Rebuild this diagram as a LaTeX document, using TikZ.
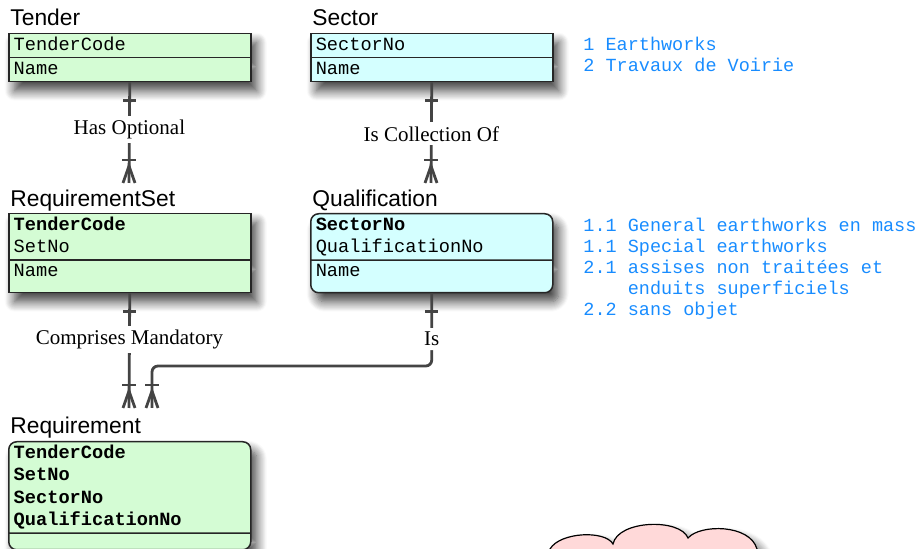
\documentclass[tikz,border=0pt]{standalone}
\usepackage{fontspec}
\setmainfont{Liberation Serif}
\setsansfont{Liberation Sans}
\setmonofont{Liberation Mono}
\usetikzlibrary{shapes.multipart,shadows.blur}

\definecolor{entgreen}{RGB}{212,252,212}
\definecolor{entcyan}{RGB}{212,255,255}
\definecolor{cloudpink}{RGB}{255,217,217}
\definecolor{linegray}{RGB}{68,68,68}
\definecolor{noteblue}{RGB}{24,140,255}

\newcommand{\fld}[1]{\rule[-3.25pt]{0pt}{11.25pt}#1}

\tikzset{
  boxshadow/.style={blur shadow={shadow xshift=3pt, shadow yshift=-4.5pt, shadow blur radius=5pt, shadow blur steps=10, shadow opacity=75}},
  entity/.style={rectangle split, rectangle split parts=2, draw=black!85, line width=0.75pt,
    inner xsep=2.5pt, inner ysep=0pt, text width=116pt, align=left, anchor=north west,
    font=\ttfamily\fontsize{9.33pt}{11.25pt}\selectfont, boxshadow},
  enttitle/.style={font=\sffamily\fontsize{11.4pt}{13pt}\selectfont, inner sep=0pt, anchor=base west},
  rel/.style={draw=linegray, line width=1.4pt},
  lbl/.style={fill=white, font=\fontsize{10.5pt}{12pt}\selectfont, inner sep=2pt},
  note/.style={text=noteblue, font=\ttfamily\fontsize{9.25pt}{10.5pt}\selectfont, align=left, inner sep=0pt, anchor=north west}
}

\begin{document}
\begin{tikzpicture}[x=0.5pt,y=-0.5pt]
\useasboundingbox (0,0) rectangle (921,549);

% Entities
\node[entity, fill=entgreen] (tender) at (8,33) {\fld{TenderCode}\nodepart{two}\fld{Name}};
\node[entity, fill=entcyan] (sector) at (310,33) {\fld{SectorNo}\nodepart{two}\fld{Name}};
\node[entity, fill=entgreen] (reqset) at (8,213) {\fld{\textbf{TenderCode}}\\\fld{SetNo}\nodepart{two}\fld{Name}\rule[-7.5pt]{0pt}{0pt}};
\node[entity, fill=entcyan, rounded corners=4pt] (qual) at (310,213) {\fld{\textbf{SectorNo}}\\\fld{QualificationNo}\nodepart{two}\fld{Name}\rule[-7.5pt]{0pt}{0pt}};
\node[entity, fill=entgreen, rounded corners=4pt] (req) at (8,441) {\fld{\textbf{TenderCode}}\\\fld{\textbf{SetNo}}\\\fld{\textbf{SectorNo}}\\\fld{\textbf{QualificationNo}}\nodepart{two}\rule{0pt}{7.5pt}};

% Titles
\node[enttitle] (tenderT) at ([shift={(2,-7)}]tender.north west) {Tender};
\node[enttitle] (sectorT) at ([shift={(2,-7)}]sector.north west) {Sector};
\node[enttitle] (reqsetT) at ([shift={(2,-6)}]reqset.north west) {RequirementSet};
\node[enttitle] (qualT) at ([shift={(2,-6)}]qual.north west) {Qualification};
\node[enttitle] (reqT) at ([shift={(2,-7)}]req.north west) {Requirement};

% Sample values
\node[note] (sectorNotes) at (583,37) {1 Earthworks\\2 Travaux de Voirie};
\node[note] (qualNotes) at (583,218) {1.1 General earthworks en mass\\1.1 Special earthworks\\2.1 assises non traitées et\\\hspace*{2.4em}enduits superficiels\\2.2 sans objet};

% Relationships
\coordinate (rsIn) at (129,183);
\coordinate (qualIn) at (431,183);
\coordinate (reqInA) at (129,408);
\coordinate (reqInB) at (152,408);
\coordinate (isTurn) at (152,366);

\draw[rel] (tender.south) -- (rsIn) node[lbl, pos=0.47] (hasOpt) {Has Optional};
\draw[rel] (sector.south) -- (qualIn) node[lbl, pos=0.51] (isColl) {Is Collection Of};
\draw[rel] (reqset.south) -- (reqInA) node[lbl, pos=0.4] (comprises) {Comprises Mandatory};
\draw[rel, rounded corners=3pt] (qual.south) |- (isTurn) node[lbl, pos=0.315] (isLbl) {Is} -- (reqInB);

% One ends
\foreach \s in {tender, sector, reqset, qual} {
  \draw[rel] ([shift={(-6.5,18)}]\s.south) -- ([shift={(6.5,18)}]\s.south);
}

% Many ends
\foreach \e in {rsIn, qualIn, reqInA, reqInB} {
  \draw[rel] ([shift={(-7,-23)}]\e) -- ([shift={(7,-23)}]\e);
  \draw[rel] ([shift={(-6,0)}]\e) -- ([shift={(0,-17)}]\e) -- ([shift={(6,0)}]\e);
}

% Cloud
\draw[fill=cloudpink, draw=black, line width=0.6pt, boxshadow]
  (550,562) -- (550,549) .. controls (560,532) and (605,530) .. (613,544)
  .. controls (618,520) and (680,518) .. (688,538)
  .. controls (700,524) and (750,524) .. (757,549) -- (757,562) -- cycle;

\end{tikzpicture}
\end{document}
